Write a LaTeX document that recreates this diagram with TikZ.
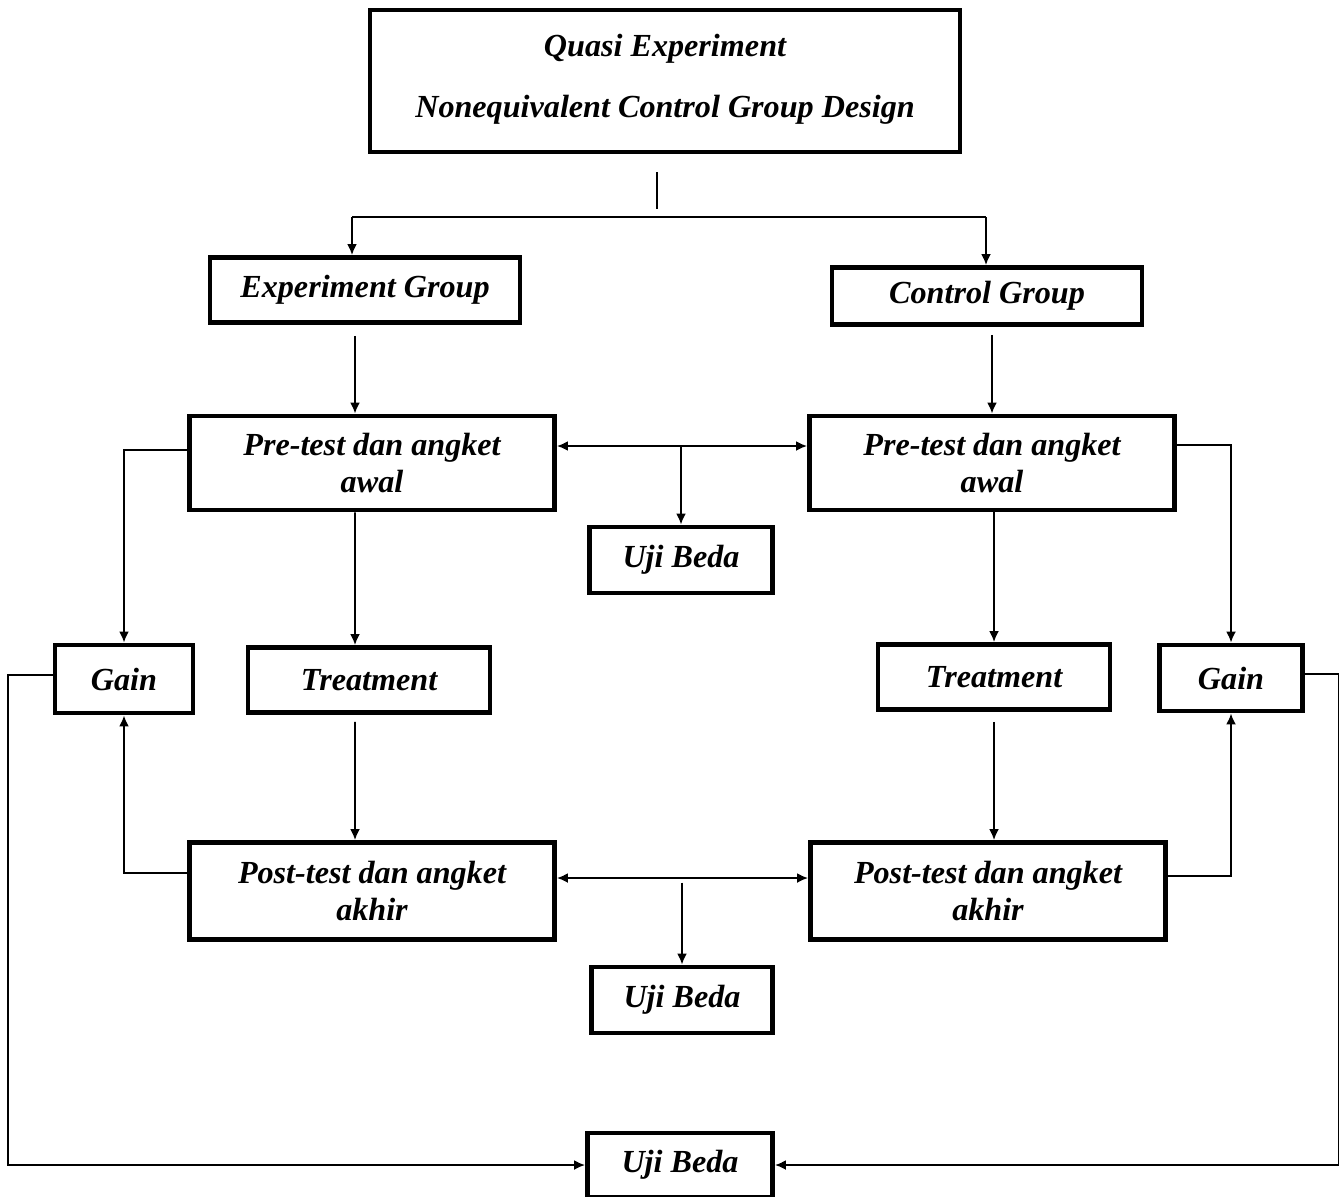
\documentclass[tikz,border=0pt]{standalone}
\usepackage{fontspec}
\setmainfont{Liberation Serif}
\usepackage{tikz}
\usetikzlibrary{shapes, arrows, arrows.meta, calc}
\tikzstyle{kotak} = [
    rectangle,
    text centered,
    align = center,
    line width = 2.8pt,
    draw = black,
    font = \bfseries\itshape\fontsize{18.3}{21}\selectfont,
]
\tikzstyle{panah} = [line width = 1.1pt, >={Latex[length=2.2mm,width=2mm]}]

\begin{document}
\begin{tikzpicture}
    \useasboundingbox (0,0) rectangle (26.88,-23.92);

    \node (quasi) [kotak, minimum width = 11.8cm, minimum height = 2.84cm, text depth = 0.2cm] at (13.3,-1.62) {Quasi Experiment \\[14pt] Nonequivalent Control Group Design};
    \node (expgroup) [kotak, minimum width = 6.2cm, minimum height = 1.3cm] at (7.3,-5.8) {Experiment Group};
    \node (ctrlgroup) [kotak, minimum width = 6.2cm, minimum height = 1.14cm] at (19.74,-5.92) {Control Group};
    \node (pretestexp) [kotak, minimum width = 7.3cm, minimum height = 1.88cm] at (7.44,-9.26) {Pre-test dan angket \\ awal};
    \node (pretestctrl) [kotak, minimum width = 7.3cm, minimum height = 1.88cm] at (19.84,-9.26) {Pre-test dan angket \\ awal};
    \node (ujibeda1) [kotak, minimum width = 3.66cm, minimum height = 1.32cm] at (13.62,-11.2) {Uji Beda};
    \node (gainexp) [kotak, minimum width = 2.76cm, minimum height = 1.36cm] at (2.48,-13.58) {Gain};
    \node (treatexp) [kotak, minimum width = 4.84cm, minimum height = 1.3cm] at (7.38,-13.6) {Treatment};
    \node (treatctrl) [kotak, minimum width = 4.64cm, minimum height = 1.3cm] at (19.88,-13.54) {Treatment};
    \node (gainctrl) [kotak, minimum width = 2.86cm, minimum height = 1.32cm] at (24.62,-13.56) {Gain};
    \node (posttestexp) [kotak, minimum width = 7.3cm, minimum height = 1.94cm] at (7.44,-17.82) {Post-test dan angket \\ akhir};
    \node (posttestctrl) [kotak, minimum width = 7.1cm, minimum height = 1.94cm] at (19.76,-17.82) {Post-test dan angket \\ akhir};
    \node (ujibeda2) [kotak, minimum width = 3.62cm, minimum height = 1.32cm] at (13.64,-20) {Uji Beda};
    \node (ujibeda3) [kotak, minimum width = 3.7cm, minimum height = 1.28cm] at (13.6,-23.3) {Uji Beda};

    % percabangan dari desain
    \coordinate (batang) at ($(quasi.south)+(-0.16,-0.36)$);
    \coordinate (cabangL) at (7.04,-4.34);
    \coordinate (cabangR) at (19.72,-4.34);
    \draw[panah] (batang) -- ++(0,-0.74);
    \draw[panah] (cabangL) -- (cabangR);
    \draw[panah, ->] (cabangL) -- (cabangL |- expgroup.north);
    \draw[panah, ->] (cabangR) -- (cabangR |- ctrlgroup.north);

    \draw[panah, ->] ($(expgroup.south)+(-0.2,-0.22)$) -- ($(pretestexp.north)+(-0.34,0)$);
    \draw[panah, ->] ($(ctrlgroup.south -| pretestctrl.north)+(0,-0.16)$) -- (pretestctrl.north);

    % pre-test
    \coordinate (hub1) at ($(pretestexp.east)+(0,0.34)$);
    \draw[panah, <->] (hub1) -- ($(pretestctrl.west)+(0,0.34)$);
    \draw[panah, ->] (hub1 -| ujibeda1.north) -- (ujibeda1.north);
    \draw[panah, ->] ($(pretestexp.west)+(0,0.26)$) -| (gainexp.north);
    \draw[panah, ->] ($(pretestctrl.east)+(0,0.36)$) -| (gainctrl.north);
    \draw[panah, ->] ($(pretestexp.south)+(-0.34,0)$) -- ($(treatexp.north)+(-0.28,0)$);
    \draw[panah, ->] (treatctrl.north |- pretestctrl.south) -- (treatctrl.north);

    % treatment ke post-test
    \draw[panah, ->] ($(treatexp.south)+(-0.28,-0.14)$) -- ($(posttestexp.north)+(-0.34,0)$);
    \draw[panah, ->] ($(treatctrl.south)+(0,-0.2)$) -- (treatctrl.south |- posttestctrl.north);

    % post-test
    \draw[panah, <->] ($(posttestexp.east)+(0,0.26)$) -- ($(posttestctrl.west)+(0,0.26)$);
    \draw[panah, ->] ($(ujibeda2.north)+(0,1.64)$) -- (ujibeda2.north);
    \draw[panah, ->] ($(posttestexp.west)+(0,0.36)$) -| (gainexp.south);
    \draw[panah, ->] ($(posttestctrl.east)+(0,0.3)$) -| (gainctrl.south);

    % gain ke uji beda
    \draw[panah, ->] ($(gainexp.west)+(0,0.08)$) -- ++(-0.9,0) |- (ujibeda3.west);
    \draw[panah, ->] ($(gainctrl.east)+(0,0.08)$) -- ++(0.67,0) |- (ujibeda3.east);
\end{tikzpicture}
\end{document}
